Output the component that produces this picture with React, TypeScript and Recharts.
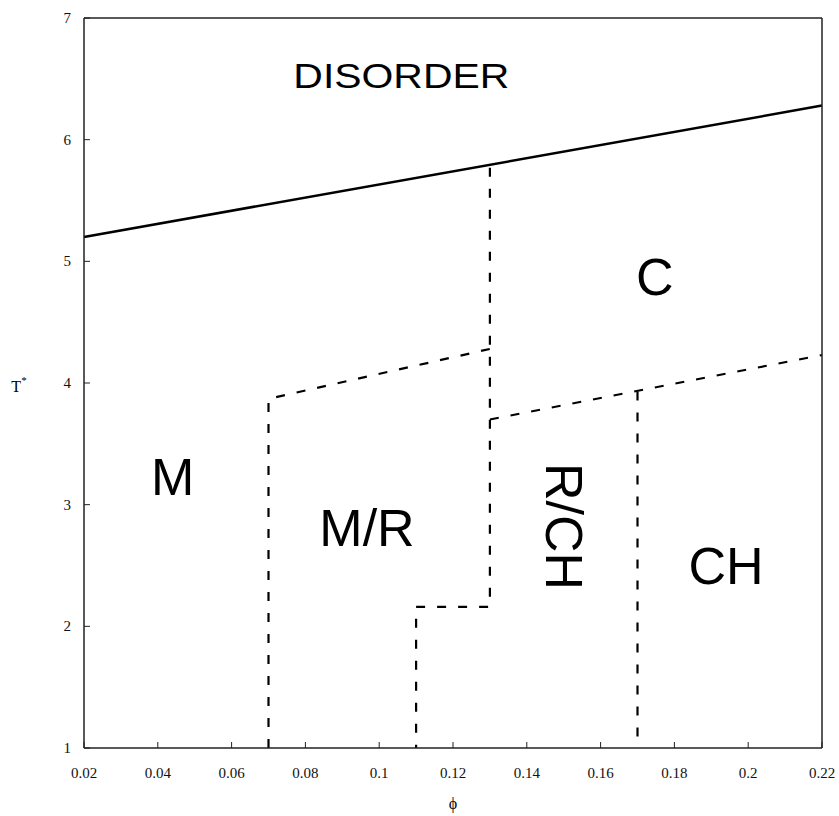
import { ComposedChart, Line, Scatter, XAxis, YAxis, Label } from 'recharts'

// boundaries of the phase diagram (phi, T*)
const disorderLine = [
  { x: 0.02, y: 5.2 },
  { x: 0.22, y: 6.28 },
]
const cBoundary = [
  { x: 0.13, y: 5.77 },
  { x: 0.13, y: 2.16 },
  { x: 0.11, y: 2.16 },
  { x: 0.11, y: 1 },
]
const mrBoundary = [
  { x: 0.07, y: 1 },
  { x: 0.07, y: 3.87 },
  { x: 0.13, y: 4.28 },
]
const rchBoundary = [
  { x: 0.13, y: 3.7 },
  { x: 0.22, y: 4.23 },
]
const chBoundary = [
  { x: 0.17, y: 3.93 },
  { x: 0.17, y: 1 },
]

// region names and where they sit
const regionNames = ['DISORDER', 'M', 'M/R', 'C', 'R/CH', 'CH']
const regionPhi = [0.106, 0.044, 0.0967, 0.1747, 0.15, 0.194]
const regionT = [6.53, 3.22, 2.8, 4.86, 2.82, 2.49]

const xTicks = [0.02, 0.04, 0.06, 0.08, 0.1, 0.12, 0.14, 0.16, 0.18, 0.2, 0.22]
const yTicks = [1, 2, 3, 4, 5, 6, 7]

const regions = regionNames.map((name, i) => ({ name, x: regionPhi[i], y: regionT[i] }))

const SERIF = '"Liberation Serif", "DejaVu Serif", "Times New Roman", serif'
const SANS = '"Liberation Sans", Arial, Helvetica, sans-serif'
const AXIS = '#222'
const TICK = 6

const BottomTick = ({ x, y, payload }: any) => (
  <g>
    <line x1={x} y1={y} x2={x} y2={y - TICK} stroke={AXIS} strokeWidth={1} />
    <text x={x} y={y + 30} textAnchor="middle" fontFamily={SERIF} fontSize={15} fill="#111">
      {payload.value}
    </text>
  </g>
)
const TopTick = ({ x, y }: any) => (
  <line x1={x} y1={y} x2={x} y2={y + TICK} stroke={AXIS} strokeWidth={1} />
)
const LeftTick = ({ x, y, payload }: any) => (
  <g>
    <line x1={x} y1={y} x2={x + TICK} y2={y} stroke={AXIS} strokeWidth={1} />
    <text x={x - 13} y={y + 5} textAnchor="end" fontFamily={SERIF} fontSize={15} fill="#111">
      {payload.value}
    </text>
  </g>
)
const RightTick = ({ x, y }: any) => (
  <line x1={x} y1={y} x2={x - TICK} y2={y} stroke={AXIS} strokeWidth={1} />
)

const RegionLabel = ({ cx, cy, payload }: any) => {
  const name = payload.name
  if (name === 'R/CH') {
    return (
      <text transform={`translate(${cx},${cy}) rotate(90)`} x={0} y={18} textAnchor="middle"
        fontFamily={SANS} fontSize={52} fill="#000">
        {name}
      </text>
    )
  }
  if (name === 'DISORDER') {
    return (
      <text x={cx} y={cy + 12.5} textAnchor="middle" fontFamily={SANS} fontSize={35} fill="#000"
        textLength={216} lengthAdjust="spacingAndGlyphs">
        {name}
      </text>
    )
  }
  return (
    <text x={cx} y={cy + 17} textAnchor="middle" fontFamily={SANS} fontSize={52} fill="#000">
      {name}
    </text>
  )
}

export default function App() {
  return (
    <div>
      <style>{'html, body { margin: 0; overflow: hidden; } .recharts-surface { overflow: visible; }'}</style>
      <ComposedChart width={839} height={816} margin={{ top: 8, right: 7, bottom: 28, left: 24 }}>
        <XAxis
          xAxisId="b"
          dataKey="x"
          type="number"
          domain={[0.02, 0.22]}
          ticks={xTicks}
          interval={0}
          height={40}
          tickSize={0}
          tickMargin={0}
          tickLine={false}
          tick={BottomTick}
          axisLine={{ stroke: AXIS, strokeWidth: 1.5 }}
        >
          <Label
            content={({ viewBox }: any) => (
              <text x={viewBox.x + viewBox.width / 2} y={viewBox.y + 61} textAnchor="middle"
                fontFamily={SERIF} fontSize={16} fill="#000">
                ϕ
              </text>
            )}
          />
        </XAxis>
        <XAxis
          xAxisId="t"
          dataKey="x"
          type="number"
          orientation="top"
          domain={[0.02, 0.22]}
          ticks={xTicks}
          interval={0}
          height={10}
          tickSize={0}
          tickMargin={0}
          tickLine={false}
          tick={TopTick}
          axisLine={{ stroke: AXIS, strokeWidth: 1.5 }}
        />
        <YAxis
          yAxisId="l"
          dataKey="y"
          type="number"
          domain={[1, 7]}
          ticks={yTicks}
          interval={0}
          width={60}
          tickSize={0}
          tickMargin={0}
          tickLine={false}
          tick={LeftTick}
          axisLine={{ stroke: AXIS, strokeWidth: 1.5 }}
        >
          <Label
            content={({ viewBox }: any) => (
              <text x={viewBox.x - 5} y={viewBox.y + viewBox.height / 2 + 9} textAnchor="middle"
                fontFamily={SERIF} fontSize={16} fill="#000">
                T<tspan dy={-8} fontSize={11}>*</tspan>
              </text>
            )}
          />
        </YAxis>
        <YAxis
          yAxisId="r"
          dataKey="y"
          type="number"
          orientation="right"
          domain={[1, 7]}
          ticks={yTicks}
          interval={0}
          width={10}
          tickSize={0}
          tickMargin={0}
          tickLine={false}
          tick={RightTick}
          axisLine={{ stroke: AXIS, strokeWidth: 1.5 }}
        />

        <Line xAxisId="b" yAxisId="l" data={disorderLine} dataKey="y" type="linear"
          stroke="#000" strokeWidth={2.5} dot={false} activeDot={false} isAnimationActive={false} />
        {[cBoundary, mrBoundary, rchBoundary, chBoundary].map((d, i) => (
          <Line key={i} xAxisId="b" yAxisId="l" data={d} dataKey="y" type="linear"
            stroke="#000" strokeWidth={2.2} strokeDasharray="9 12" dot={false} activeDot={false}
            isAnimationActive={false} />
        ))}
        <Scatter xAxisId="b" yAxisId="l" data={regions} shape={RegionLabel} isAnimationActive={false} />
      </ComposedChart>
    </div>
  )
}
